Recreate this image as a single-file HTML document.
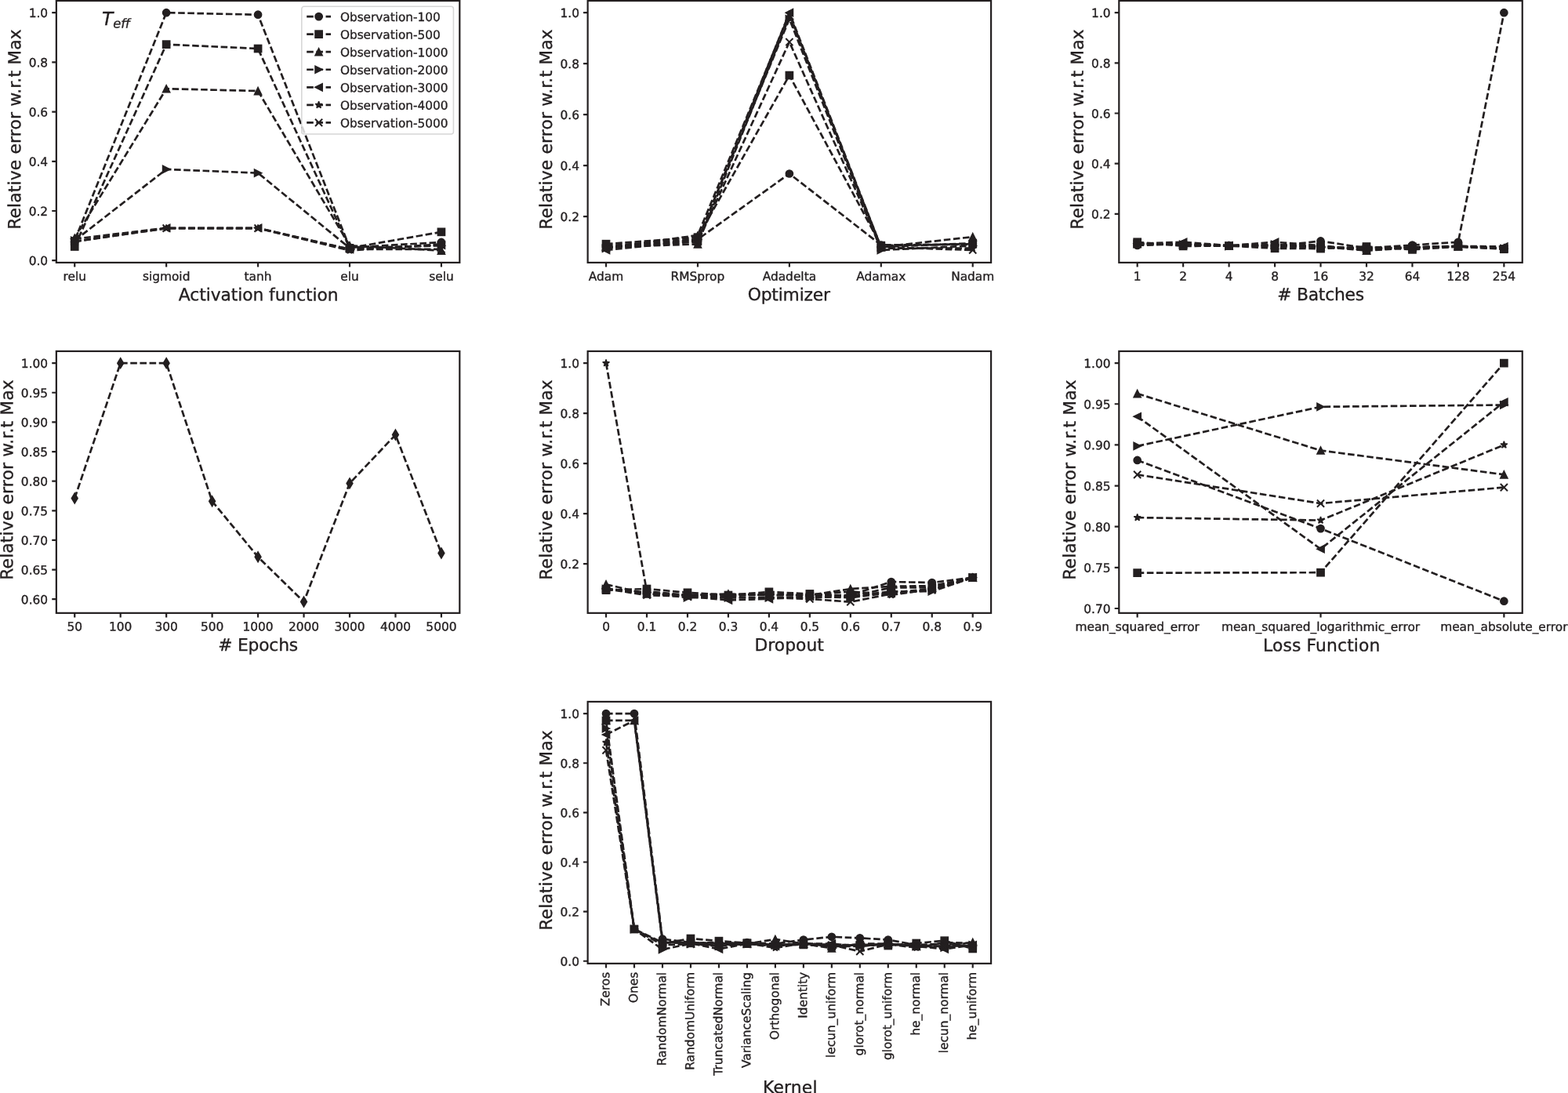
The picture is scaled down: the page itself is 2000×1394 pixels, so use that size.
<!DOCTYPE html>
<html lang="en">
<head>
<meta charset="utf-8">
<title>Relative error w.r.t Max - hyperparameter study</title>
<style>
html,body{margin:0;padding:0;background:#fff;}
body{width:2000px;height:1394px;overflow:hidden;}
svg{display:block;}
</style>
</head>
<body>
<svg width="2000" height="1394" viewBox="0 0 2000 1394">
<rect width="2000" height="1394" fill="#fff"/>
<g>
<path d="M95.23,306.9L212.15,16.18L329.07,18.71L446,315.75L562.92,308.95" fill="none" stroke="#231f20" stroke-width="2.7" stroke-dasharray="8.6 3.56" stroke-linejoin="round"/>
<g fill="#231f20" stroke="#231f20" stroke-width="1.53"><circle cx="95.23" cy="306.9" r="4.59"/><circle cx="212.15" cy="16.18" r="4.59"/><circle cx="329.07" cy="18.71" r="4.59"/><circle cx="446" cy="315.75" r="4.59"/><circle cx="562.92" cy="308.95" r="4.59"/></g>
<path d="M95.23,314.48L212.15,56.63L329.07,62L446,316.38L562.92,295.84" fill="none" stroke="#231f20" stroke-width="2.7" stroke-dasharray="8.6 3.56" stroke-linejoin="round"/>
<g fill="#231f20" stroke="#231f20" stroke-width="1.53"><rect x="90.64" y="309.89" width="9.18" height="9.18"/><rect x="207.56" y="52.04" width="9.18" height="9.18"/><rect x="324.49" y="57.41" width="9.18" height="9.18"/><rect x="441.41" y="311.79" width="9.18" height="9.18"/><rect x="558.33" y="291.25" width="9.18" height="9.18"/></g>
<path d="M95.23,303.74L212.15,113.19L329.07,116.03L446,313.22L562.92,319.54" fill="none" stroke="#231f20" stroke-width="2.7" stroke-dasharray="8.6 3.56" stroke-linejoin="round"/>
<g fill="#231f20" stroke="#231f20" stroke-width="1.53"><polygon points="95.23,299.15 90.64,308.33 99.82,308.33"/><polygon points="212.15,108.6 207.56,117.78 216.74,117.78"/><polygon points="329.07,111.44 324.49,120.62 333.66,120.62"/><polygon points="446,308.63 441.41,317.81 450.59,317.81"/><polygon points="562.92,314.95 558.33,324.13 567.51,324.13"/></g>
<path d="M95.23,306.9L212.15,215.89L329.07,220.63L446,316.38L562.92,313.22" fill="none" stroke="#231f20" stroke-width="2.7" stroke-dasharray="8.6 3.56" stroke-linejoin="round"/>
<g fill="#231f20" stroke="#231f20" stroke-width="1.53"><polygon points="99.82,306.9 90.64,302.31 90.64,311.49"/><polygon points="216.74,215.89 207.56,211.3 207.56,220.48"/><polygon points="333.66,220.63 324.49,216.04 324.49,225.22"/><polygon points="450.59,316.38 441.41,311.79 441.41,320.97"/><polygon points="567.51,313.22 558.33,308.63 558.33,317.81"/></g>
<path d="M95.23,304.69L212.15,290.78L329.07,290.78L446,317.96L562.92,312.59" fill="none" stroke="#231f20" stroke-width="2.7" stroke-dasharray="8.6 3.56" stroke-linejoin="round"/>
<g fill="#231f20" stroke="#231f20" stroke-width="1.53"><polygon points="90.64,304.69 99.82,300.1 99.82,309.28"/><polygon points="207.56,290.78 216.74,286.19 216.74,295.37"/><polygon points="324.49,290.78 333.66,286.19 333.66,295.37"/><polygon points="441.41,317.96 450.59,313.37 450.59,322.55"/><polygon points="558.33,312.59 567.51,308 567.51,317.18"/></g>
<path d="M95.23,307.85L212.15,291.1L329.07,291.1L446,319.54L562.92,311.32" fill="none" stroke="#231f20" stroke-width="2.7" stroke-dasharray="8.6 3.56" stroke-linejoin="round"/>
<g fill="#231f20" stroke="#231f20" stroke-width="1.53"><polygon stroke-linejoin="bevel" points="95.23,303.26 94.2,306.43 90.87,306.43 93.57,308.39 92.54,311.56 95.23,309.6 97.93,311.56 96.9,308.39 99.6,306.43 96.26,306.43"/><polygon stroke-linejoin="bevel" points="212.15,286.51 211.12,289.68 207.79,289.68 210.49,291.64 209.46,294.81 212.15,292.85 214.85,294.81 213.82,291.64 216.52,289.68 213.19,289.68"/><polygon stroke-linejoin="bevel" points="329.07,286.51 328.04,289.68 324.71,289.68 327.41,291.64 326.38,294.81 329.07,292.85 331.77,294.81 330.74,291.64 333.44,289.68 330.11,289.68"/><polygon stroke-linejoin="bevel" points="446,314.95 444.96,318.12 441.63,318.12 444.33,320.08 443.3,323.25 446,321.29 448.69,323.25 447.66,320.08 450.36,318.12 447.03,318.12"/><polygon stroke-linejoin="bevel" points="562.92,306.73 561.89,309.9 558.55,309.9 561.25,311.86 560.22,315.03 562.92,313.07 565.61,315.03 564.58,311.86 567.28,309.9 563.95,309.9"/></g>
<path d="M95.23,308.16L212.15,291.1L329.07,291.1L446,317.96L562.92,317.96" fill="none" stroke="#231f20" stroke-width="2.7" stroke-dasharray="8.6 3.56" stroke-linejoin="round"/>
<g fill="#231f20" stroke="#231f20" stroke-width="1.53"><path fill="none" stroke-width="2" d="M90.64,303.57L99.82,312.75M90.64,312.75L99.82,303.57"/><path fill="none" stroke-width="2" d="M207.56,286.51L216.74,295.69M207.56,295.69L216.74,286.51"/><path fill="none" stroke-width="2" d="M324.49,286.51L333.66,295.69M324.49,295.69L333.66,286.51"/><path fill="none" stroke-width="2" d="M441.41,313.37L450.59,322.55M441.41,322.55L450.59,313.37"/><path fill="none" stroke-width="2" d="M558.33,313.37L567.51,322.55M558.33,322.55L567.51,313.37"/></g>
<rect x="71.85" y="1" width="514.45" height="333.9" fill="none" stroke="#231f20" stroke-width="2.2"/>
<path d="M95.23,334.9v5.6M212.15,334.9v5.6M329.07,334.9v5.6M446,334.9v5.6M562.92,334.9v5.6M71.85,332.18h-5.6M71.85,268.98h-5.6M71.85,205.78h-5.6M71.85,142.58h-5.6M71.85,79.38h-5.6M71.85,16.18h-5.6" stroke="#231f20" stroke-width="2.2" fill="none"/>
<g font-family="'DejaVu Sans','Liberation Sans',sans-serif" font-size="15.4" fill="#231f20" stroke="#231f20" stroke-width="0.35">
<text transform="translate(61.15,338.13) skewY(0.05)" text-anchor="end">0.0</text>
<text transform="translate(61.15,274.93) skewY(0.05)" text-anchor="end">0.2</text>
<text transform="translate(61.15,211.73) skewY(0.05)" text-anchor="end">0.4</text>
<text transform="translate(61.15,148.53) skewY(0.05)" text-anchor="end">0.6</text>
<text transform="translate(61.15,85.33) skewY(0.05)" text-anchor="end">0.8</text>
<text transform="translate(61.15,22.13) skewY(0.05)" text-anchor="end">1.0</text>
<text transform="translate(95.23,357.65) skewY(0.05)" text-anchor="middle">relu</text>
<text transform="translate(212.15,357.65) skewY(0.05)" text-anchor="middle">sigmoid</text>
<text transform="translate(329.07,357.65) skewY(0.05)" text-anchor="middle">tanh</text>
<text transform="translate(446,357.65) skewY(0.05)" text-anchor="middle">elu</text>
<text transform="translate(562.92,357.65) skewY(0.05)" text-anchor="middle">selu</text>
</g>
<g font-family="'DejaVu Sans','Liberation Sans',sans-serif" font-size="21.8" fill="#231f20" stroke="#231f20" stroke-width="0.35">
<text id="xl1" transform="translate(227.87,383.25) skewY(0.05)" textLength="203.74" lengthAdjust="spacing">Activation function</text>
<text id="yl1" transform="translate(26.1,292.8) rotate(-90) skewY(0.05)" textLength="255.44" lengthAdjust="spacing" font-size="21.8">Relative error w.r.t Max</text>
</g>
</g>
<g>
<path d="M773.03,313.46L889.95,305.34L1006.88,221.51L1123.8,312.49L1240.72,311.84" fill="none" stroke="#231f20" stroke-width="2.7" stroke-dasharray="8.6 3.56" stroke-linejoin="round"/>
<g fill="#231f20" stroke="#231f20" stroke-width="1.53"><circle cx="773.03" cy="313.46" r="4.59"/><circle cx="889.95" cy="305.34" r="4.59"/><circle cx="1006.88" cy="221.51" r="4.59"/><circle cx="1123.8" cy="312.49" r="4.59"/><circle cx="1240.72" cy="311.84" r="4.59"/></g>
<path d="M773.03,311.19L889.95,302.74L1006.88,96.1L1123.8,313.14L1240.72,311.19" fill="none" stroke="#231f20" stroke-width="2.7" stroke-dasharray="8.6 3.56" stroke-linejoin="round"/>
<g fill="#231f20" stroke="#231f20" stroke-width="1.53"><rect x="768.44" y="306.6" width="9.18" height="9.18"/><rect x="885.36" y="298.15" width="9.18" height="9.18"/><rect x="1002.28" y="91.51" width="9.18" height="9.18"/><rect x="1119.21" y="308.55" width="9.18" height="9.18"/><rect x="1236.13" y="306.6" width="9.18" height="9.18"/></g>
<path d="M773.03,315.09L889.95,311.38L1006.88,21.05L1123.8,315.09L1240.72,302.09" fill="none" stroke="#231f20" stroke-width="2.7" stroke-dasharray="8.6 3.56" stroke-linejoin="round"/>
<g fill="#231f20" stroke="#231f20" stroke-width="1.53"><polygon points="773.03,310.5 768.44,319.68 777.62,319.68"/><polygon points="889.95,306.79 885.36,315.97 894.54,315.97"/><polygon points="1006.88,16.46 1002.28,25.64 1011.47,25.64"/><polygon points="1123.8,310.5 1119.21,319.68 1128.39,319.68"/><polygon points="1240.72,297.5 1236.13,306.68 1245.31,306.68"/></g>
<path d="M773.03,316.71L889.95,305.34L1006.88,24.3L1123.8,318.98L1240.72,313.46" fill="none" stroke="#231f20" stroke-width="2.7" stroke-dasharray="8.6 3.56" stroke-linejoin="round"/>
<g fill="#231f20" stroke="#231f20" stroke-width="1.53"><polygon points="777.62,316.71 768.44,312.12 768.44,321.3"/><polygon points="894.54,305.34 885.36,300.75 885.36,309.93"/><polygon points="1011.47,24.3 1002.28,19.71 1002.28,28.89"/><polygon points="1128.39,318.98 1119.21,314.39 1119.21,323.57"/><polygon points="1245.31,313.46 1236.13,308.87 1236.13,318.05"/></g>
<path d="M773.03,318.98L889.95,306.96L1006.88,16.18L1123.8,315.09L1240.72,310.21" fill="none" stroke="#231f20" stroke-width="2.7" stroke-dasharray="8.6 3.56" stroke-linejoin="round"/>
<g fill="#231f20" stroke="#231f20" stroke-width="1.53"><polygon points="768.44,318.98 777.62,314.39 777.62,323.57"/><polygon points="885.36,306.96 894.54,302.37 894.54,311.55"/><polygon points="1002.28,16.18 1011.47,11.59 1011.47,20.77"/><polygon points="1119.21,315.09 1128.39,310.5 1128.39,319.68"/><polygon points="1236.13,310.21 1245.31,305.62 1245.31,314.8"/></g>
<path d="M773.03,316.71L889.95,299.98L1006.88,17.8L1123.8,316.71L1240.72,316.71" fill="none" stroke="#231f20" stroke-width="2.7" stroke-dasharray="8.6 3.56" stroke-linejoin="round"/>
<g fill="#231f20" stroke="#231f20" stroke-width="1.53"><polygon stroke-linejoin="bevel" points="773.03,312.12 772,315.29 768.67,315.29 771.37,317.25 770.34,320.42 773.03,318.46 775.73,320.42 774.7,317.25 777.4,315.29 774.06,315.29"/><polygon stroke-linejoin="bevel" points="889.95,295.39 888.92,298.56 885.59,298.56 888.29,300.52 887.26,303.69 889.95,301.73 892.65,303.69 891.62,300.52 894.32,298.56 890.99,298.56"/><polygon stroke-linejoin="bevel" points="1006.88,13.21 1005.84,16.38 1002.51,16.38 1005.21,18.34 1004.18,21.52 1006.88,19.55 1009.57,21.52 1008.54,18.34 1011.24,16.38 1007.91,16.38"/><polygon stroke-linejoin="bevel" points="1123.8,312.12 1122.76,315.29 1119.43,315.29 1122.13,317.25 1121.1,320.42 1123.8,318.46 1126.49,320.42 1125.46,317.25 1128.16,315.29 1124.83,315.29"/><polygon stroke-linejoin="bevel" points="1240.72,312.12 1239.69,315.29 1236.35,315.29 1239.05,317.25 1238.02,320.42 1240.72,318.46 1243.41,320.42 1242.38,317.25 1245.08,315.29 1241.75,315.29"/></g>
<path d="M773.03,315.09L889.95,308.59L1006.88,53.54L1123.8,315.09L1240.72,318.98" fill="none" stroke="#231f20" stroke-width="2.7" stroke-dasharray="8.6 3.56" stroke-linejoin="round"/>
<g fill="#231f20" stroke="#231f20" stroke-width="1.53"><path fill="none" stroke-width="2" d="M768.44,310.5L777.62,319.68M768.44,319.68L777.62,310.5"/><path fill="none" stroke-width="2" d="M885.36,304L894.54,313.18M885.36,313.18L894.54,304"/><path fill="none" stroke-width="2" d="M1002.28,48.95L1011.47,58.13M1002.28,58.13L1011.47,48.95"/><path fill="none" stroke-width="2" d="M1119.21,310.5L1128.39,319.68M1119.21,319.68L1128.39,310.5"/><path fill="none" stroke-width="2" d="M1236.13,314.39L1245.31,323.57M1236.13,323.57L1245.31,314.39"/></g>
<rect x="749.65" y="1" width="514.45" height="333.9" fill="none" stroke="#231f20" stroke-width="2.2"/>
<path d="M773.03,334.9v5.6M889.95,334.9v5.6M1006.88,334.9v5.6M1123.8,334.9v5.6M1240.72,334.9v5.6M749.65,276.1h-5.6M749.65,211.12h-5.6M749.65,146.14h-5.6M749.65,81.16h-5.6M749.65,16.18h-5.6" stroke="#231f20" stroke-width="2.2" fill="none"/>
<g font-family="'DejaVu Sans','Liberation Sans',sans-serif" font-size="15.4" fill="#231f20" stroke="#231f20" stroke-width="0.35">
<text transform="translate(738.95,282.05) skewY(0.05)" text-anchor="end">0.2</text>
<text transform="translate(738.95,217.07) skewY(0.05)" text-anchor="end">0.4</text>
<text transform="translate(738.95,152.09) skewY(0.05)" text-anchor="end">0.6</text>
<text transform="translate(738.95,87.11) skewY(0.05)" text-anchor="end">0.8</text>
<text transform="translate(738.95,22.13) skewY(0.05)" text-anchor="end">1.0</text>
<text transform="translate(773.03,357.65) skewY(0.05)" text-anchor="middle">Adam</text>
<text transform="translate(889.95,357.65) skewY(0.05)" text-anchor="middle">RMSprop</text>
<text transform="translate(1006.88,357.65) skewY(0.05)" text-anchor="middle">Adadelta</text>
<text transform="translate(1123.8,357.65) skewY(0.05)" text-anchor="middle">Adamax</text>
<text transform="translate(1240.72,357.65) skewY(0.05)" text-anchor="middle">Nadam</text>
</g>
<g font-family="'DejaVu Sans','Liberation Sans',sans-serif" font-size="21.8" fill="#231f20" stroke="#231f20" stroke-width="0.35">
<text id="xl2" transform="translate(953.71,383.1) skewY(0.05)" textLength="105.27" lengthAdjust="spacing">Optimizer</text>
<text id="yl2" transform="translate(703.9,292.8) rotate(-90) skewY(0.05)" textLength="255.44" lengthAdjust="spacing" font-size="21.8">Relative error w.r.t Max</text>
</g>
</g>
<g>
<path d="M1450.68,312.92L1509.14,311.31L1567.6,313.24L1626.06,313.88L1684.52,307.46L1742.99,316.45L1801.45,312.6L1859.91,308.75L1918.37,16.18" fill="none" stroke="#231f20" stroke-width="2.7" stroke-dasharray="8.6 3.56" stroke-linejoin="round"/>
<g fill="#231f20" stroke="#231f20" stroke-width="1.53"><circle cx="1450.68" cy="312.92" r="4.59"/><circle cx="1509.14" cy="311.31" r="4.59"/><circle cx="1567.6" cy="313.24" r="4.59"/><circle cx="1626.06" cy="313.88" r="4.59"/><circle cx="1684.52" cy="307.46" r="4.59"/><circle cx="1742.99" cy="316.45" r="4.59"/><circle cx="1801.45" cy="312.6" r="4.59"/><circle cx="1859.91" cy="308.75" r="4.59"/><circle cx="1918.37" cy="16.18" r="4.59"/></g>
<path d="M1450.68,308.75L1509.14,313.88L1567.6,313.56L1626.06,316.77L1684.52,317.09L1742.99,314.52L1801.45,318.37L1859.91,314.52L1918.37,317.73" fill="none" stroke="#231f20" stroke-width="2.7" stroke-dasharray="8.6 3.56" stroke-linejoin="round"/>
<g fill="#231f20" stroke="#231f20" stroke-width="1.53"><rect x="1446.09" y="304.16" width="9.18" height="9.18"/><rect x="1504.55" y="309.29" width="9.18" height="9.18"/><rect x="1563.01" y="308.97" width="9.18" height="9.18"/><rect x="1621.47" y="312.18" width="9.18" height="9.18"/><rect x="1679.93" y="312.5" width="9.18" height="9.18"/><rect x="1738.4" y="309.93" width="9.18" height="9.18"/><rect x="1796.86" y="313.78" width="9.18" height="9.18"/><rect x="1855.32" y="309.93" width="9.18" height="9.18"/><rect x="1913.78" y="313.14" width="9.18" height="9.18"/></g>
<path d="M1450.68,310.99L1509.14,311.63L1567.6,313.24L1626.06,312.6L1684.52,314.52L1742.99,319.65L1801.45,315.8L1859.91,313.88L1918.37,316.45" fill="none" stroke="#231f20" stroke-width="2.7" stroke-dasharray="8.6 3.56" stroke-linejoin="round"/>
<g fill="#231f20" stroke="#231f20" stroke-width="1.53"><polygon points="1450.68,306.4 1446.09,315.58 1455.27,315.58"/><polygon points="1509.14,307.04 1504.55,316.22 1513.73,316.22"/><polygon points="1567.6,308.65 1563.01,317.83 1572.19,317.83"/><polygon points="1626.06,308.01 1621.47,317.19 1630.65,317.19"/><polygon points="1684.52,309.93 1679.93,319.11 1689.11,319.11"/><polygon points="1742.99,315.06 1738.4,324.24 1747.58,324.24"/><polygon points="1801.45,311.21 1796.86,320.39 1806.04,320.39"/><polygon points="1859.91,309.29 1855.32,318.47 1864.5,318.47"/><polygon points="1918.37,311.86 1913.78,321.04 1922.96,321.04"/></g>
<path d="M1450.68,310.99L1509.14,311.95L1567.6,313.88L1626.06,311.95L1684.52,315.16L1742.99,317.09L1801.45,315.8L1859.91,314.52L1918.37,317.09" fill="none" stroke="#231f20" stroke-width="2.7" stroke-dasharray="8.6 3.56" stroke-linejoin="round"/>
<g fill="#231f20" stroke="#231f20" stroke-width="1.53"><polygon points="1455.27,310.99 1446.09,306.4 1446.09,315.58"/><polygon points="1513.73,311.95 1504.55,307.36 1504.55,316.54"/><polygon points="1572.19,313.88 1563.01,309.29 1563.01,318.47"/><polygon points="1630.65,311.95 1621.47,307.36 1621.47,316.54"/><polygon points="1689.11,315.16 1679.93,310.57 1679.93,319.75"/><polygon points="1747.58,317.09 1738.4,312.5 1738.4,321.68"/><polygon points="1806.04,315.8 1796.86,311.21 1796.86,320.39"/><polygon points="1864.5,314.52 1855.32,309.93 1855.32,319.11"/><polygon points="1922.96,317.09 1913.78,312.5 1913.78,321.68"/></g>
<path d="M1450.68,310.67L1509.14,308.75L1567.6,313.24L1626.06,308.75L1684.52,313.24L1742.99,319.01L1801.45,315.16L1859.91,313.88L1918.37,314.52" fill="none" stroke="#231f20" stroke-width="2.7" stroke-dasharray="8.6 3.56" stroke-linejoin="round"/>
<g fill="#231f20" stroke="#231f20" stroke-width="1.53"><polygon points="1446.09,310.67 1455.27,306.08 1455.27,315.26"/><polygon points="1504.55,308.75 1513.73,304.16 1513.73,313.34"/><polygon points="1563.01,313.24 1572.19,308.65 1572.19,317.83"/><polygon points="1621.47,308.75 1630.65,304.16 1630.65,313.34"/><polygon points="1679.93,313.24 1689.11,308.65 1689.11,317.83"/><polygon points="1738.4,319.01 1747.58,314.42 1747.58,323.6"/><polygon points="1796.86,315.16 1806.04,310.57 1806.04,319.75"/><polygon points="1855.32,313.88 1864.5,309.29 1864.5,318.47"/><polygon points="1913.78,314.52 1922.96,309.93 1922.96,319.11"/></g>
<path d="M1450.68,310.99L1509.14,311.63L1567.6,313.56L1626.06,312.6L1684.52,314.84L1742.99,317.09L1801.45,315.8L1859.91,314.2L1918.37,317.09" fill="none" stroke="#231f20" stroke-width="2.7" stroke-dasharray="8.6 3.56" stroke-linejoin="round"/>
<g fill="#231f20" stroke="#231f20" stroke-width="1.53"><polygon stroke-linejoin="bevel" points="1450.68,306.4 1449.65,309.57 1446.32,309.57 1449.02,311.53 1447.99,314.71 1450.68,312.75 1453.38,314.71 1452.35,311.53 1455.05,309.57 1451.71,309.57"/><polygon stroke-linejoin="bevel" points="1509.14,307.04 1508.11,310.22 1504.78,310.22 1507.48,312.18 1506.45,315.35 1509.14,313.39 1511.84,315.35 1510.81,312.18 1513.51,310.22 1510.17,310.22"/><polygon stroke-linejoin="bevel" points="1567.6,308.97 1566.57,312.14 1563.24,312.14 1565.94,314.1 1564.91,317.27 1567.6,315.31 1570.3,317.27 1569.27,314.1 1571.97,312.14 1568.64,312.14"/><polygon stroke-linejoin="bevel" points="1626.06,308.01 1625.03,311.18 1621.7,311.18 1624.4,313.14 1623.37,316.31 1626.06,314.35 1628.76,316.31 1627.73,313.14 1630.43,311.18 1627.1,311.18"/><polygon stroke-linejoin="bevel" points="1684.52,310.25 1683.49,313.42 1680.16,313.42 1682.86,315.38 1681.83,318.56 1684.52,316.6 1687.22,318.56 1686.19,315.38 1688.89,313.42 1685.56,313.42"/><polygon stroke-linejoin="bevel" points="1742.99,312.5 1741.95,315.67 1738.62,315.67 1741.32,317.63 1740.29,320.8 1742.99,318.84 1745.68,320.8 1744.65,317.63 1747.35,315.67 1744.02,315.67"/><polygon stroke-linejoin="bevel" points="1801.45,311.21 1800.41,314.39 1797.08,314.39 1799.78,316.35 1798.75,319.52 1801.45,317.56 1804.14,319.52 1803.11,316.35 1805.81,314.39 1802.48,314.39"/><polygon stroke-linejoin="bevel" points="1859.91,309.61 1858.88,312.78 1855.54,312.78 1858.24,314.74 1857.21,317.91 1859.91,315.95 1862.6,317.91 1861.57,314.74 1864.27,312.78 1860.94,312.78"/><polygon stroke-linejoin="bevel" points="1918.37,312.5 1917.34,315.67 1914,315.67 1916.7,317.63 1915.67,320.8 1918.37,318.84 1921.06,320.8 1920.03,317.63 1922.73,315.67 1919.4,315.67"/></g>
<path d="M1450.68,310.99L1509.14,311.95L1567.6,313.24L1626.06,314.52L1684.52,315.16L1742.99,317.09L1801.45,315.48L1859.91,314.52L1918.37,317.09" fill="none" stroke="#231f20" stroke-width="2.7" stroke-dasharray="8.6 3.56" stroke-linejoin="round"/>
<g fill="#231f20" stroke="#231f20" stroke-width="1.53"><path fill="none" stroke-width="2" d="M1446.09,306.4L1455.27,315.58M1446.09,315.58L1455.27,306.4"/><path fill="none" stroke-width="2" d="M1504.55,307.36L1513.73,316.54M1504.55,316.54L1513.73,307.36"/><path fill="none" stroke-width="2" d="M1563.01,308.65L1572.19,317.83M1563.01,317.83L1572.19,308.65"/><path fill="none" stroke-width="2" d="M1621.47,309.93L1630.65,319.11M1621.47,319.11L1630.65,309.93"/><path fill="none" stroke-width="2" d="M1679.93,310.57L1689.11,319.75M1679.93,319.75L1689.11,310.57"/><path fill="none" stroke-width="2" d="M1738.4,312.5L1747.58,321.68M1738.4,321.68L1747.58,312.5"/><path fill="none" stroke-width="2" d="M1796.86,310.89L1806.04,320.07M1796.86,320.07L1806.04,310.89"/><path fill="none" stroke-width="2" d="M1855.32,309.93L1864.5,319.11M1855.32,319.11L1864.5,309.93"/><path fill="none" stroke-width="2" d="M1913.78,312.5L1922.96,321.68M1913.78,321.68L1922.96,312.5"/></g>
<rect x="1427.3" y="1" width="514.45" height="333.9" fill="none" stroke="#231f20" stroke-width="2.2"/>
<path d="M1450.68,334.9v5.6M1509.14,334.9v5.6M1567.6,334.9v5.6M1626.06,334.9v5.6M1684.52,334.9v5.6M1742.99,334.9v5.6M1801.45,334.9v5.6M1859.91,334.9v5.6M1918.37,334.9v5.6M1427.3,272.82h-5.6M1427.3,208.66h-5.6M1427.3,144.5h-5.6M1427.3,80.34h-5.6M1427.3,16.18h-5.6" stroke="#231f20" stroke-width="2.2" fill="none"/>
<g font-family="'DejaVu Sans','Liberation Sans',sans-serif" font-size="15.4" fill="#231f20" stroke="#231f20" stroke-width="0.35">
<text transform="translate(1416.6,278.77) skewY(0.05)" text-anchor="end">0.2</text>
<text transform="translate(1416.6,214.61) skewY(0.05)" text-anchor="end">0.4</text>
<text transform="translate(1416.6,150.45) skewY(0.05)" text-anchor="end">0.6</text>
<text transform="translate(1416.6,86.29) skewY(0.05)" text-anchor="end">0.8</text>
<text transform="translate(1416.6,22.13) skewY(0.05)" text-anchor="end">1.0</text>
<text transform="translate(1450.68,357.65) skewY(0.05)" text-anchor="middle">1</text>
<text transform="translate(1509.14,357.65) skewY(0.05)" text-anchor="middle">2</text>
<text transform="translate(1567.6,357.65) skewY(0.05)" text-anchor="middle">4</text>
<text transform="translate(1626.06,357.65) skewY(0.05)" text-anchor="middle">8</text>
<text transform="translate(1684.52,357.65) skewY(0.05)" text-anchor="middle">16</text>
<text transform="translate(1742.99,357.65) skewY(0.05)" text-anchor="middle">32</text>
<text transform="translate(1801.45,357.65) skewY(0.05)" text-anchor="middle">64</text>
<text transform="translate(1859.91,357.65) skewY(0.05)" text-anchor="middle">128</text>
<text transform="translate(1918.37,357.65) skewY(0.05)" text-anchor="middle">254</text>
</g>
<g font-family="'DejaVu Sans','Liberation Sans',sans-serif" font-size="21.8" fill="#231f20" stroke="#231f20" stroke-width="0.35">
<text id="xl3" transform="translate(1629.15,383) skewY(0.05)" textLength="110.97" lengthAdjust="spacing"># Batches</text>
<text id="yl3" transform="translate(1381.55,292.8) rotate(-90) skewY(0.05)" textLength="255.44" lengthAdjust="spacing" font-size="21.8">Relative error w.r.t Max</text>
</g>
</g>
<g>
<path d="M95.23,635.5L153.69,463.13L212.15,463.13L270.61,639.26L329.07,710.31L387.54,767.52L446,616.38L504.46,554.58L562.92,705.5" fill="none" stroke="#231f20" stroke-width="2.7" stroke-dasharray="8.6 3.56" stroke-linejoin="round"/>
<g fill="#231f20" stroke="#231f20" stroke-width="1.53"><polygon points="95.23,629 99.13,635.5 95.23,641.99 91.34,635.5"/><polygon points="153.69,456.64 157.59,463.13 153.69,469.62 149.8,463.13"/><polygon points="212.15,456.64 216.05,463.13 212.15,469.62 208.26,463.13"/><polygon points="270.61,632.77 274.51,639.26 270.61,645.75 266.72,639.26"/><polygon points="329.07,703.82 332.97,710.31 329.07,716.81 325.18,710.31"/><polygon points="387.54,761.03 391.43,767.52 387.54,774.01 383.64,767.52"/><polygon points="446,609.89 449.89,616.38 446,622.87 442.1,616.38"/><polygon points="504.46,548.09 508.35,554.58 504.46,561.07 500.56,554.58"/><polygon points="562.92,699.01 566.81,705.5 562.92,711.99 559.02,705.5"/></g>
<rect x="71.85" y="447.95" width="514.45" height="333.9" fill="none" stroke="#231f20" stroke-width="2.2"/>
<path d="M95.23,781.85v5.6M153.69,781.85v5.6M212.15,781.85v5.6M270.61,781.85v5.6M329.07,781.85v5.6M387.54,781.85v5.6M446,781.85v5.6M504.46,781.85v5.6M562.92,781.85v5.6M71.85,764.21h-5.6M71.85,726.57h-5.6M71.85,688.94h-5.6M71.85,651.3h-5.6M71.85,613.67h-5.6M71.85,576.03h-5.6M71.85,538.4h-5.6M71.85,500.76h-5.6M71.85,463.13h-5.6" stroke="#231f20" stroke-width="2.2" fill="none"/>
<g font-family="'DejaVu Sans','Liberation Sans',sans-serif" font-size="15.4" fill="#231f20" stroke="#231f20" stroke-width="0.35">
<text transform="translate(61.15,770.16) skewY(0.05)" text-anchor="end">0.60</text>
<text transform="translate(61.15,732.52) skewY(0.05)" text-anchor="end">0.65</text>
<text transform="translate(61.15,694.89) skewY(0.05)" text-anchor="end">0.70</text>
<text transform="translate(61.15,657.25) skewY(0.05)" text-anchor="end">0.75</text>
<text transform="translate(61.15,619.62) skewY(0.05)" text-anchor="end">0.80</text>
<text transform="translate(61.15,581.98) skewY(0.05)" text-anchor="end">0.85</text>
<text transform="translate(61.15,544.35) skewY(0.05)" text-anchor="end">0.90</text>
<text transform="translate(61.15,506.71) skewY(0.05)" text-anchor="end">0.95</text>
<text transform="translate(61.15,469.08) skewY(0.05)" text-anchor="end">1.00</text>
<text transform="translate(95.23,804.6) skewY(0.05)" text-anchor="middle">50</text>
<text transform="translate(153.69,804.6) skewY(0.05)" text-anchor="middle">100</text>
<text transform="translate(212.15,804.6) skewY(0.05)" text-anchor="middle">300</text>
<text transform="translate(270.61,804.6) skewY(0.05)" text-anchor="middle">500</text>
<text transform="translate(329.07,804.6) skewY(0.05)" text-anchor="middle">1000</text>
<text transform="translate(387.54,804.6) skewY(0.05)" text-anchor="middle">2000</text>
<text transform="translate(446,804.6) skewY(0.05)" text-anchor="middle">3000</text>
<text transform="translate(504.46,804.6) skewY(0.05)" text-anchor="middle">4000</text>
<text transform="translate(562.92,804.6) skewY(0.05)" text-anchor="middle">5000</text>
</g>
<g font-family="'DejaVu Sans','Liberation Sans',sans-serif" font-size="21.8" fill="#231f20" stroke="#231f20" stroke-width="0.35">
<text id="xl4" transform="translate(278.24,830) skewY(0.05)" textLength="101.88" lengthAdjust="spacing"># Epochs</text>
<text id="yl4" transform="translate(16.3,739.75) rotate(-90) skewY(0.05)" textLength="255.44" lengthAdjust="spacing" font-size="21.8">Relative error w.r.t Max</text>
</g>
</g>
<g>
<path d="M773.03,751.04L825,755.84L876.96,759.03L928.93,760.63L980.89,757.44L1032.86,759.03L1084.82,759.03L1136.79,742.08L1188.75,743.04L1240.72,736.64" fill="none" stroke="#231f20" stroke-width="2.7" stroke-dasharray="8.6 3.56" stroke-linejoin="round"/>
<g fill="#231f20" stroke="#231f20" stroke-width="1.53"><circle cx="773.03" cy="751.04" r="4.59"/><circle cx="825" cy="755.84" r="4.59"/><circle cx="876.96" cy="759.03" r="4.59"/><circle cx="928.93" cy="760.63" r="4.59"/><circle cx="980.89" cy="757.44" r="4.59"/><circle cx="1032.86" cy="759.03" r="4.59"/><circle cx="1084.82" cy="759.03" r="4.59"/><circle cx="1136.79" cy="742.08" r="4.59"/><circle cx="1188.75" cy="743.04" r="4.59"/><circle cx="1240.72" cy="736.64" r="4.59"/></g>
<path d="M773.03,752.64L825,751.04L876.96,755.84L928.93,759.03L980.89,754.88L1032.86,757.44L1084.82,760.63L1136.79,749.44L1188.75,749.44L1240.72,736.64" fill="none" stroke="#231f20" stroke-width="2.7" stroke-dasharray="8.6 3.56" stroke-linejoin="round"/>
<g fill="#231f20" stroke="#231f20" stroke-width="1.53"><rect x="768.44" y="748.05" width="9.18" height="9.18"/><rect x="820.41" y="746.45" width="9.18" height="9.18"/><rect x="872.37" y="751.25" width="9.18" height="9.18"/><rect x="924.34" y="754.44" width="9.18" height="9.18"/><rect x="976.3" y="750.29" width="9.18" height="9.18"/><rect x="1028.27" y="752.85" width="9.18" height="9.18"/><rect x="1080.23" y="756.04" width="9.18" height="9.18"/><rect x="1132.2" y="744.85" width="9.18" height="9.18"/><rect x="1184.16" y="744.85" width="9.18" height="9.18"/><rect x="1236.13" y="732.05" width="9.18" height="9.18"/></g>
<path d="M773.03,745.28L825,757.44L876.96,759.03L928.93,757.44L980.89,759.03L1032.86,759.03L1084.82,751.04L1136.79,747.84L1188.75,747.2L1240.72,736.64" fill="none" stroke="#231f20" stroke-width="2.7" stroke-dasharray="8.6 3.56" stroke-linejoin="round"/>
<g fill="#231f20" stroke="#231f20" stroke-width="1.53"><polygon points="773.03,740.69 768.44,749.87 777.62,749.87"/><polygon points="825,752.85 820.41,762.03 829.59,762.03"/><polygon points="876.96,754.44 872.37,763.62 881.55,763.62"/><polygon points="928.93,752.85 924.34,762.03 933.52,762.03"/><polygon points="980.89,754.44 976.3,763.62 985.48,763.62"/><polygon points="1032.86,754.44 1028.27,763.62 1037.45,763.62"/><polygon points="1084.82,746.45 1080.23,755.63 1089.41,755.63"/><polygon points="1136.79,743.25 1132.2,752.43 1141.38,752.43"/><polygon points="1188.75,742.61 1184.16,751.79 1193.34,751.79"/><polygon points="1240.72,732.05 1236.13,741.23 1245.31,741.23"/></g>
<path d="M773.03,751.04L825,755.84L876.96,762.23L928.93,762.23L980.89,762.23L1032.86,762.23L1084.82,760.63L1136.79,754.24L1188.75,754.24L1240.72,736.64" fill="none" stroke="#231f20" stroke-width="2.7" stroke-dasharray="8.6 3.56" stroke-linejoin="round"/>
<g fill="#231f20" stroke="#231f20" stroke-width="1.53"><polygon points="777.62,751.04 768.44,746.45 768.44,755.63"/><polygon points="829.59,755.84 820.41,751.25 820.41,760.43"/><polygon points="881.55,762.23 872.37,757.64 872.37,766.82"/><polygon points="933.52,762.23 924.34,757.64 924.34,766.82"/><polygon points="985.48,762.23 976.3,757.64 976.3,766.82"/><polygon points="1037.45,762.23 1028.27,757.64 1028.27,766.82"/><polygon points="1089.41,760.63 1080.23,756.04 1080.23,765.22"/><polygon points="1141.38,754.24 1132.2,749.65 1132.2,758.83"/><polygon points="1193.34,754.24 1184.16,749.65 1184.16,758.83"/><polygon points="1245.31,736.64 1236.13,732.05 1236.13,741.23"/></g>
<path d="M773.03,751.04L825,757.44L876.96,760.63L928.93,765.43L980.89,763.83L1032.86,760.63L1084.82,762.23L1136.79,755.84L1188.75,751.04L1240.72,736.64" fill="none" stroke="#231f20" stroke-width="2.7" stroke-dasharray="8.6 3.56" stroke-linejoin="round"/>
<g fill="#231f20" stroke="#231f20" stroke-width="1.53"><polygon points="768.44,751.04 777.62,746.45 777.62,755.63"/><polygon points="820.41,757.44 829.59,752.85 829.59,762.03"/><polygon points="872.37,760.63 881.55,756.04 881.55,765.22"/><polygon points="924.34,765.43 933.52,760.84 933.52,770.02"/><polygon points="976.3,763.83 985.48,759.24 985.48,768.42"/><polygon points="1028.27,760.63 1037.45,756.04 1037.45,765.22"/><polygon points="1080.23,762.23 1089.41,757.64 1089.41,766.82"/><polygon points="1132.2,755.84 1141.38,751.25 1141.38,760.43"/><polygon points="1184.16,751.04 1193.34,746.45 1193.34,755.63"/><polygon points="1236.13,736.64 1245.31,732.05 1245.31,741.23"/></g>
<path d="M773.03,463.13L825,754.24L876.96,759.03L928.93,759.03L980.89,759.03L1032.86,759.03L1084.82,754.24L1136.79,759.03L1188.75,751.04L1240.72,736.64" fill="none" stroke="#231f20" stroke-width="2.7" stroke-dasharray="8.6 3.56" stroke-linejoin="round"/>
<g fill="#231f20" stroke="#231f20" stroke-width="1.53"><polygon stroke-linejoin="bevel" points="773.03,458.54 772,461.71 768.67,461.71 771.37,463.67 770.34,466.84 773.03,464.88 775.73,466.84 774.7,463.67 777.4,461.71 774.06,461.71"/><polygon stroke-linejoin="bevel" points="825,749.65 823.97,752.82 820.63,752.82 823.33,754.78 822.3,757.95 825,755.99 827.7,757.95 826.67,754.78 829.36,752.82 826.03,752.82"/><polygon stroke-linejoin="bevel" points="876.96,754.44 875.93,757.62 872.6,757.62 875.3,759.58 874.27,762.75 876.96,760.79 879.66,762.75 878.63,759.58 881.33,757.62 877.99,757.62"/><polygon stroke-linejoin="bevel" points="928.93,754.44 927.9,757.62 924.56,757.62 927.26,759.58 926.23,762.75 928.93,760.79 931.63,762.75 930.6,759.58 933.29,757.62 929.96,757.62"/><polygon stroke-linejoin="bevel" points="980.89,754.44 979.86,757.62 976.53,757.62 979.23,759.58 978.19,762.75 980.89,760.79 983.59,762.75 982.56,759.58 985.26,757.62 981.92,757.62"/><polygon stroke-linejoin="bevel" points="1032.86,754.44 1031.83,757.62 1028.49,757.62 1031.19,759.58 1030.16,762.75 1032.86,760.79 1035.56,762.75 1034.52,759.58 1037.22,757.62 1033.89,757.62"/><polygon stroke-linejoin="bevel" points="1084.82,749.65 1083.79,752.82 1080.46,752.82 1083.15,754.78 1082.12,757.95 1084.82,755.99 1087.52,757.95 1086.49,754.78 1089.19,752.82 1085.85,752.82"/><polygon stroke-linejoin="bevel" points="1136.79,754.44 1135.76,757.62 1132.42,757.62 1135.12,759.58 1134.09,762.75 1136.79,760.79 1139.48,762.75 1138.45,759.58 1141.15,757.62 1137.82,757.62"/><polygon stroke-linejoin="bevel" points="1188.75,746.45 1187.72,749.62 1184.39,749.62 1187.08,751.58 1186.05,754.75 1188.75,752.79 1191.45,754.75 1190.42,751.58 1193.12,749.62 1189.78,749.62"/><polygon stroke-linejoin="bevel" points="1240.72,732.05 1239.69,735.22 1236.35,735.22 1239.05,737.18 1238.02,740.36 1240.72,738.39 1243.41,740.36 1242.38,737.18 1245.08,735.22 1241.75,735.22"/></g>
<path d="M773.03,751.04L825,759.03L876.96,760.63L928.93,762.23L980.89,762.23L1032.86,763.83L1084.82,767.67L1136.79,757.44L1188.75,752.64L1240.72,736.64" fill="none" stroke="#231f20" stroke-width="2.7" stroke-dasharray="8.6 3.56" stroke-linejoin="round"/>
<g fill="#231f20" stroke="#231f20" stroke-width="1.53"><path fill="none" stroke-width="2" d="M768.44,746.45L777.62,755.63M768.44,755.63L777.62,746.45"/><path fill="none" stroke-width="2" d="M820.41,754.44L829.59,763.62M820.41,763.62L829.59,754.44"/><path fill="none" stroke-width="2" d="M872.37,756.04L881.55,765.22M872.37,765.22L881.55,756.04"/><path fill="none" stroke-width="2" d="M924.34,757.64L933.52,766.82M924.34,766.82L933.52,757.64"/><path fill="none" stroke-width="2" d="M976.3,757.64L985.48,766.82M976.3,766.82L985.48,757.64"/><path fill="none" stroke-width="2" d="M1028.27,759.24L1037.45,768.42M1028.27,768.42L1037.45,759.24"/><path fill="none" stroke-width="2" d="M1080.23,763.08L1089.41,772.26M1080.23,772.26L1089.41,763.08"/><path fill="none" stroke-width="2" d="M1132.2,752.85L1141.38,762.03M1132.2,762.03L1141.38,752.85"/><path fill="none" stroke-width="2" d="M1184.16,748.05L1193.34,757.23M1184.16,757.23L1193.34,748.05"/><path fill="none" stroke-width="2" d="M1236.13,732.05L1245.31,741.23M1236.13,741.23L1245.31,732.05"/></g>
<rect x="749.65" y="447.95" width="514.45" height="333.9" fill="none" stroke="#231f20" stroke-width="2.2"/>
<path d="M773.03,781.85v5.6M825,781.85v5.6M876.96,781.85v5.6M928.93,781.85v5.6M980.89,781.85v5.6M1032.86,781.85v5.6M1084.82,781.85v5.6M1136.79,781.85v5.6M1188.75,781.85v5.6M1240.72,781.85v5.6M749.65,719.05h-5.6M749.65,655.07h-5.6M749.65,591.09h-5.6M749.65,527.11h-5.6M749.65,463.13h-5.6" stroke="#231f20" stroke-width="2.2" fill="none"/>
<g font-family="'DejaVu Sans','Liberation Sans',sans-serif" font-size="15.4" fill="#231f20" stroke="#231f20" stroke-width="0.35">
<text transform="translate(738.95,725) skewY(0.05)" text-anchor="end">0.2</text>
<text transform="translate(738.95,661.02) skewY(0.05)" text-anchor="end">0.4</text>
<text transform="translate(738.95,597.04) skewY(0.05)" text-anchor="end">0.6</text>
<text transform="translate(738.95,533.06) skewY(0.05)" text-anchor="end">0.8</text>
<text transform="translate(738.95,469.08) skewY(0.05)" text-anchor="end">1.0</text>
<text transform="translate(773.03,804.6) skewY(0.05)" text-anchor="middle">0</text>
<text transform="translate(825,804.6) skewY(0.05)" text-anchor="middle">0.1</text>
<text transform="translate(876.96,804.6) skewY(0.05)" text-anchor="middle">0.2</text>
<text transform="translate(928.93,804.6) skewY(0.05)" text-anchor="middle">0.3</text>
<text transform="translate(980.89,804.6) skewY(0.05)" text-anchor="middle">0.4</text>
<text transform="translate(1032.86,804.6) skewY(0.05)" text-anchor="middle">0.5</text>
<text transform="translate(1084.82,804.6) skewY(0.05)" text-anchor="middle">0.6</text>
<text transform="translate(1136.79,804.6) skewY(0.05)" text-anchor="middle">0.7</text>
<text transform="translate(1188.75,804.6) skewY(0.05)" text-anchor="middle">0.8</text>
<text transform="translate(1240.72,804.6) skewY(0.05)" text-anchor="middle">0.9</text>
</g>
<g font-family="'DejaVu Sans','Liberation Sans',sans-serif" font-size="21.8" fill="#231f20" stroke="#231f20" stroke-width="0.35">
<text id="xl5" transform="translate(962.52,830) skewY(0.05)" textLength="88.34" lengthAdjust="spacing">Dropout</text>
<text id="yl5" transform="translate(703.9,739.75) rotate(-90) skewY(0.05)" textLength="255.44" lengthAdjust="spacing" font-size="21.8">Relative error w.r.t Max</text>
</g>
</g>
<g>
<path d="M1450.68,586.92L1684.52,674.11L1918.37,766.72" fill="none" stroke="#231f20" stroke-width="2.7" stroke-dasharray="8.6 3.56" stroke-linejoin="round"/>
<g fill="#231f20" stroke="#231f20" stroke-width="1.53"><circle cx="1450.68" cy="586.92" r="4.59"/><circle cx="1684.52" cy="674.11" r="4.59"/><circle cx="1918.37" cy="766.72" r="4.59"/></g>
<path d="M1450.68,730.63L1684.52,730.21L1918.37,463.13" fill="none" stroke="#231f20" stroke-width="2.7" stroke-dasharray="8.6 3.56" stroke-linejoin="round"/>
<g fill="#231f20" stroke="#231f20" stroke-width="1.53"><rect x="1446.09" y="726.04" width="9.18" height="9.18"/><rect x="1679.93" y="725.62" width="9.18" height="9.18"/><rect x="1913.78" y="458.54" width="9.18" height="9.18"/></g>
<path d="M1450.68,502.03L1684.52,574.51L1918.37,605.27" fill="none" stroke="#231f20" stroke-width="2.7" stroke-dasharray="8.6 3.56" stroke-linejoin="round"/>
<g fill="#231f20" stroke="#231f20" stroke-width="1.53"><polygon points="1450.68,497.44 1446.09,506.62 1455.27,506.62"/><polygon points="1684.52,569.92 1679.93,579.1 1689.11,579.1"/><polygon points="1918.37,600.68 1913.78,609.86 1922.96,609.86"/></g>
<path d="M1450.68,568.88L1684.52,518.82L1918.37,516.52" fill="none" stroke="#231f20" stroke-width="2.7" stroke-dasharray="8.6 3.56" stroke-linejoin="round"/>
<g fill="#231f20" stroke="#231f20" stroke-width="1.53"><polygon points="1455.27,568.88 1446.09,564.29 1446.09,573.47"/><polygon points="1689.11,518.82 1679.93,514.23 1679.93,523.41"/><polygon points="1922.96,516.52 1913.78,511.93 1913.78,521.11"/></g>
<path d="M1450.68,531.23L1684.52,700.18L1918.37,512.77" fill="none" stroke="#231f20" stroke-width="2.7" stroke-dasharray="8.6 3.56" stroke-linejoin="round"/>
<g fill="#231f20" stroke="#231f20" stroke-width="1.53"><polygon points="1446.09,531.23 1455.27,526.64 1455.27,535.82"/><polygon points="1679.93,700.18 1689.11,695.59 1689.11,704.77"/><polygon points="1913.78,512.77 1922.96,508.18 1922.96,517.36"/></g>
<path d="M1450.68,660.13L1684.52,663.57L1918.37,567.42" fill="none" stroke="#231f20" stroke-width="2.7" stroke-dasharray="8.6 3.56" stroke-linejoin="round"/>
<g fill="#231f20" stroke="#231f20" stroke-width="1.53"><polygon stroke-linejoin="bevel" points="1450.68,655.54 1449.65,658.71 1446.32,658.71 1449.02,660.67 1447.99,663.84 1450.68,661.88 1453.38,663.84 1452.35,660.67 1455.05,658.71 1451.71,658.71"/><polygon stroke-linejoin="bevel" points="1684.52,658.98 1683.49,662.15 1680.16,662.15 1682.86,664.11 1681.83,667.29 1684.52,665.33 1687.22,667.29 1686.19,664.11 1688.89,662.15 1685.56,662.15"/><polygon stroke-linejoin="bevel" points="1918.37,562.83 1917.34,566 1914,566 1916.7,567.96 1915.67,571.13 1918.37,569.17 1921.06,571.13 1920.03,567.96 1922.73,566 1919.4,566"/></g>
<path d="M1450.68,605.38L1684.52,642.09L1918.37,621.65" fill="none" stroke="#231f20" stroke-width="2.7" stroke-dasharray="8.6 3.56" stroke-linejoin="round"/>
<g fill="#231f20" stroke="#231f20" stroke-width="1.53"><path fill="none" stroke-width="2" d="M1446.09,600.79L1455.27,609.97M1446.09,609.97L1455.27,600.79"/><path fill="none" stroke-width="2" d="M1679.93,637.5L1689.11,646.68M1679.93,646.68L1689.11,637.5"/><path fill="none" stroke-width="2" d="M1913.78,617.06L1922.96,626.24M1913.78,626.24L1922.96,617.06"/></g>
<rect x="1427.3" y="447.95" width="514.45" height="333.9" fill="none" stroke="#231f20" stroke-width="2.2"/>
<path d="M1450.68,781.85v5.6M1684.52,781.85v5.6M1918.37,781.85v5.6M1427.3,776h-5.6M1427.3,723.85h-5.6M1427.3,671.71h-5.6M1427.3,619.56h-5.6M1427.3,567.42h-5.6M1427.3,515.27h-5.6M1427.3,463.13h-5.6" stroke="#231f20" stroke-width="2.2" fill="none"/>
<g font-family="'DejaVu Sans','Liberation Sans',sans-serif" font-size="15.4" fill="#231f20" stroke="#231f20" stroke-width="0.35">
<text transform="translate(1416.6,781.95) skewY(0.05)" text-anchor="end">0.70</text>
<text transform="translate(1416.6,729.8) skewY(0.05)" text-anchor="end">0.75</text>
<text transform="translate(1416.6,677.66) skewY(0.05)" text-anchor="end">0.80</text>
<text transform="translate(1416.6,625.51) skewY(0.05)" text-anchor="end">0.85</text>
<text transform="translate(1416.6,573.37) skewY(0.05)" text-anchor="end">0.90</text>
<text transform="translate(1416.6,521.22) skewY(0.05)" text-anchor="end">0.95</text>
<text transform="translate(1416.6,469.08) skewY(0.05)" text-anchor="end">1.00</text>
<text transform="translate(1450.68,804.6) skewY(0.05)" text-anchor="middle">mean_squared_error</text>
<text transform="translate(1684.52,804.6) skewY(0.05)" text-anchor="middle">mean_squared_logarithmic_error</text>
<text transform="translate(1918.37,804.6) skewY(0.05)" text-anchor="middle">mean_absolute_error</text>
</g>
<g font-family="'DejaVu Sans','Liberation Sans',sans-serif" font-size="21.8" fill="#231f20" stroke="#231f20" stroke-width="0.35">
<text id="xl6" transform="translate(1611.12,830.5) skewY(0.05)" textLength="149.23" lengthAdjust="spacing">Loss Function</text>
<text id="yl6" transform="translate(1371.75,739.75) rotate(-90) skewY(0.05)" textLength="255.44" lengthAdjust="spacing" font-size="21.8">Relative error w.r.t Max</text>
</g>
</g>
<g>
<path d="M773.03,910.13L809.01,910.13L844.99,1197.64L880.96,1202.06L916.94,1203.64L952.91,1202.06L988.89,1203.64L1024.86,1198.59L1060.84,1194.8L1096.81,1196.38L1132.79,1198.59L1168.76,1205.21L1204.74,1203.64L1240.72,1206.79" fill="none" stroke="#231f20" stroke-width="2.7" stroke-dasharray="8.6 3.56" stroke-linejoin="round"/>
<g fill="#231f20" stroke="#231f20" stroke-width="1.53"><circle cx="773.03" cy="910.13" r="4.59"/><circle cx="809.01" cy="910.13" r="4.59"/><circle cx="844.99" cy="1197.64" r="4.59"/><circle cx="880.96" cy="1202.06" r="4.59"/><circle cx="916.94" cy="1203.64" r="4.59"/><circle cx="952.91" cy="1202.06" r="4.59"/><circle cx="988.89" cy="1203.64" r="4.59"/><circle cx="1024.86" cy="1198.59" r="4.59"/><circle cx="1060.84" cy="1194.8" r="4.59"/><circle cx="1096.81" cy="1196.38" r="4.59"/><circle cx="1132.79" cy="1198.59" r="4.59"/><circle cx="1168.76" cy="1205.21" r="4.59"/><circle cx="1204.74" cy="1203.64" r="4.59"/><circle cx="1240.72" cy="1206.79" r="4.59"/></g>
<path d="M773.03,918.96L809.01,1185.01L844.99,1203.64L880.96,1197.01L916.94,1200.16L952.91,1202.69L988.89,1205.21L1024.86,1204.9L1060.84,1206.79L1096.81,1205.21L1132.79,1206.03L1168.76,1203L1204.74,1199.69L1240.72,1209.95" fill="none" stroke="#231f20" stroke-width="2.7" stroke-dasharray="8.6 3.56" stroke-linejoin="round"/>
<g fill="#231f20" stroke="#231f20" stroke-width="1.53"><rect x="768.44" y="914.37" width="9.18" height="9.18"/><rect x="804.42" y="1180.42" width="9.18" height="9.18"/><rect x="840.4" y="1199.05" width="9.18" height="9.18"/><rect x="876.37" y="1192.42" width="9.18" height="9.18"/><rect x="912.35" y="1195.57" width="9.18" height="9.18"/><rect x="948.32" y="1198.1" width="9.18" height="9.18"/><rect x="984.3" y="1200.62" width="9.18" height="9.18"/><rect x="1020.27" y="1200.31" width="9.18" height="9.18"/><rect x="1056.25" y="1202.2" width="9.18" height="9.18"/><rect x="1092.22" y="1200.62" width="9.18" height="9.18"/><rect x="1128.2" y="1201.44" width="9.18" height="9.18"/><rect x="1164.17" y="1198.41" width="9.18" height="9.18"/><rect x="1200.15" y="1195.1" width="9.18" height="9.18"/><rect x="1236.13" y="1205.36" width="9.18" height="9.18"/></g>
<path d="M773.03,918.96L809.01,918.96L844.99,1200.48L880.96,1203L916.94,1202.06L952.91,1203.64L988.89,1197.95L1024.86,1203.64L1060.84,1209.32L1096.81,1203.64L1132.79,1203.64L1168.76,1206.79L1204.74,1206.79L1240.72,1201.87" fill="none" stroke="#231f20" stroke-width="2.7" stroke-dasharray="8.6 3.56" stroke-linejoin="round"/>
<g fill="#231f20" stroke="#231f20" stroke-width="1.53"><polygon points="773.03,914.37 768.44,923.55 777.62,923.55"/><polygon points="809.01,914.37 804.42,923.55 813.6,923.55"/><polygon points="844.99,1195.89 840.4,1205.07 849.58,1205.07"/><polygon points="880.96,1198.41 876.37,1207.59 885.55,1207.59"/><polygon points="916.94,1197.47 912.35,1206.65 921.53,1206.65"/><polygon points="952.91,1199.05 948.32,1208.23 957.5,1208.23"/><polygon points="988.89,1193.36 984.3,1202.54 993.48,1202.54"/><polygon points="1024.86,1199.05 1020.27,1208.23 1029.45,1208.23"/><polygon points="1060.84,1204.73 1056.25,1213.91 1065.43,1213.91"/><polygon points="1096.81,1199.05 1092.22,1208.23 1101.4,1208.23"/><polygon points="1132.79,1199.05 1128.2,1208.23 1137.38,1208.23"/><polygon points="1168.76,1202.2 1164.17,1211.38 1173.35,1211.38"/><polygon points="1204.74,1202.2 1200.15,1211.38 1209.33,1211.38"/><polygon points="1240.72,1197.28 1236.13,1206.46 1245.31,1206.46"/></g>
<path d="M773.03,929.06L809.01,1185.01L844.99,1210.89L880.96,1203.64L916.94,1206.79L952.91,1203.64L988.89,1205.21L1024.86,1203.64L1060.84,1206.79L1096.81,1206.79L1132.79,1203.64L1168.76,1206.79L1204.74,1208.37L1240.72,1205.21" fill="none" stroke="#231f20" stroke-width="2.7" stroke-dasharray="8.6 3.56" stroke-linejoin="round"/>
<g fill="#231f20" stroke="#231f20" stroke-width="1.53"><polygon points="777.62,929.06 768.44,924.47 768.44,933.65"/><polygon points="813.6,1185.01 804.42,1180.42 804.42,1189.6"/><polygon points="849.58,1210.89 840.4,1206.3 840.4,1215.48"/><polygon points="885.55,1203.64 876.37,1199.05 876.37,1208.23"/><polygon points="921.53,1206.79 912.35,1202.2 912.35,1211.38"/><polygon points="957.5,1203.64 948.32,1199.05 948.32,1208.23"/><polygon points="993.48,1205.21 984.3,1200.62 984.3,1209.8"/><polygon points="1029.45,1203.64 1020.27,1199.05 1020.27,1208.23"/><polygon points="1065.43,1206.79 1056.25,1202.2 1056.25,1211.38"/><polygon points="1101.4,1206.79 1092.22,1202.2 1092.22,1211.38"/><polygon points="1137.38,1203.64 1128.2,1199.05 1128.2,1208.23"/><polygon points="1173.35,1206.79 1164.17,1202.2 1164.17,1211.38"/><polygon points="1209.33,1208.37 1200.15,1203.78 1200.15,1212.96"/><polygon points="1245.31,1205.21 1236.13,1200.62 1236.13,1209.8"/></g>
<path d="M773.03,936.95L809.01,918.96L844.99,1202.06L880.96,1203L916.94,1210.42L952.91,1203.64L988.89,1206.79L1024.86,1203.64L1060.84,1203.64L1096.81,1206.79L1132.79,1203.64L1168.76,1206.79L1204.74,1210.42L1240.72,1205.21" fill="none" stroke="#231f20" stroke-width="2.7" stroke-dasharray="8.6 3.56" stroke-linejoin="round"/>
<g fill="#231f20" stroke="#231f20" stroke-width="1.53"><polygon points="768.44,936.95 777.62,932.36 777.62,941.54"/><polygon points="804.42,918.96 813.6,914.37 813.6,923.55"/><polygon points="840.4,1202.06 849.58,1197.47 849.58,1206.65"/><polygon points="876.37,1203 885.55,1198.41 885.55,1207.59"/><polygon points="912.35,1210.42 921.53,1205.83 921.53,1215.01"/><polygon points="948.32,1203.64 957.5,1199.05 957.5,1208.23"/><polygon points="984.3,1206.79 993.48,1202.2 993.48,1211.38"/><polygon points="1020.27,1203.64 1029.45,1199.05 1029.45,1208.23"/><polygon points="1056.25,1203.64 1065.43,1199.05 1065.43,1208.23"/><polygon points="1092.22,1206.79 1101.4,1202.2 1101.4,1211.38"/><polygon points="1128.2,1203.64 1137.38,1199.05 1137.38,1208.23"/><polygon points="1164.17,1206.79 1173.35,1202.2 1173.35,1211.38"/><polygon points="1200.15,1210.42 1209.33,1205.83 1209.33,1215.01"/><polygon points="1236.13,1205.21 1245.31,1200.62 1245.31,1209.8"/></g>
<path d="M773.03,947.05L809.01,1185.01L844.99,1202.06L880.96,1202.06L916.94,1203.64L952.91,1203L988.89,1209L1024.86,1203L1060.84,1205.21L1096.81,1205.21L1132.79,1204.27L1168.76,1208.68L1204.74,1202.06L1240.72,1203" fill="none" stroke="#231f20" stroke-width="2.7" stroke-dasharray="8.6 3.56" stroke-linejoin="round"/>
<g fill="#231f20" stroke="#231f20" stroke-width="1.53"><polygon stroke-linejoin="bevel" points="773.03,942.46 772,945.63 768.67,945.63 771.37,947.59 770.34,950.77 773.03,948.81 775.73,950.77 774.7,947.59 777.4,945.63 774.06,945.63"/><polygon stroke-linejoin="bevel" points="809.01,1180.42 807.98,1183.6 804.64,1183.6 807.34,1185.56 806.31,1188.73 809.01,1186.77 811.71,1188.73 810.68,1185.56 813.37,1183.6 810.04,1183.6"/><polygon stroke-linejoin="bevel" points="844.99,1197.47 843.95,1200.64 840.62,1200.64 843.32,1202.6 842.29,1205.77 844.99,1203.81 847.68,1205.77 846.65,1202.6 849.35,1200.64 846.02,1200.64"/><polygon stroke-linejoin="bevel" points="880.96,1197.47 879.93,1200.64 876.6,1200.64 879.29,1202.6 878.26,1205.77 880.96,1203.81 883.66,1205.77 882.63,1202.6 885.33,1200.64 881.99,1200.64"/><polygon stroke-linejoin="bevel" points="916.94,1199.05 915.91,1202.22 912.57,1202.22 915.27,1204.18 914.24,1207.35 916.94,1205.39 919.63,1207.35 918.6,1204.18 921.3,1202.22 917.97,1202.22"/><polygon stroke-linejoin="bevel" points="952.91,1198.41 951.88,1201.59 948.55,1201.59 951.24,1203.55 950.21,1206.72 952.91,1204.76 955.61,1206.72 954.58,1203.55 957.28,1201.59 953.94,1201.59"/><polygon stroke-linejoin="bevel" points="988.89,1204.41 987.86,1207.58 984.52,1207.58 987.22,1209.54 986.19,1212.71 988.89,1210.75 991.59,1212.71 990.55,1209.54 993.25,1207.58 989.92,1207.58"/><polygon stroke-linejoin="bevel" points="1024.86,1198.41 1023.83,1201.59 1020.5,1201.59 1023.2,1203.55 1022.16,1206.72 1024.86,1204.76 1027.56,1206.72 1026.53,1203.55 1029.23,1201.59 1025.89,1201.59"/><polygon stroke-linejoin="bevel" points="1060.84,1200.62 1059.81,1203.79 1056.47,1203.79 1059.17,1205.76 1058.14,1208.93 1060.84,1206.97 1063.54,1208.93 1062.51,1205.76 1065.2,1203.79 1061.87,1203.79"/><polygon stroke-linejoin="bevel" points="1096.81,1200.62 1095.78,1203.79 1092.45,1203.79 1095.15,1205.76 1094.12,1208.93 1096.81,1206.97 1099.51,1208.93 1098.48,1205.76 1101.18,1203.79 1097.84,1203.79"/><polygon stroke-linejoin="bevel" points="1132.79,1199.68 1131.76,1202.85 1128.42,1202.85 1131.12,1204.81 1130.09,1207.98 1132.79,1206.02 1135.49,1207.98 1134.46,1204.81 1137.15,1202.85 1133.82,1202.85"/><polygon stroke-linejoin="bevel" points="1168.76,1204.09 1167.73,1207.27 1164.4,1207.27 1167.1,1209.23 1166.07,1212.4 1168.76,1210.44 1171.46,1212.4 1170.43,1209.23 1173.13,1207.27 1169.8,1207.27"/><polygon stroke-linejoin="bevel" points="1204.74,1197.47 1203.71,1200.64 1200.38,1200.64 1203.07,1202.6 1202.04,1205.77 1204.74,1203.81 1207.44,1205.77 1206.41,1202.6 1209.11,1200.64 1205.77,1200.64"/><polygon stroke-linejoin="bevel" points="1240.72,1198.41 1239.69,1201.59 1236.35,1201.59 1239.05,1203.55 1238.02,1206.72 1240.72,1204.76 1243.41,1206.72 1242.38,1203.55 1245.08,1201.59 1241.75,1201.59"/></g>
<path d="M773.03,956.84L809.01,1185.01L844.99,1205.21L880.96,1204.27L916.94,1205.21L952.91,1204.27L988.89,1205.21L1024.86,1203.64L1060.84,1205.21L1096.81,1213.42L1132.79,1204.27L1168.76,1206.16L1204.74,1206.79L1240.72,1206.16" fill="none" stroke="#231f20" stroke-width="2.7" stroke-dasharray="8.6 3.56" stroke-linejoin="round"/>
<g fill="#231f20" stroke="#231f20" stroke-width="1.53"><path fill="none" stroke-width="2" d="M768.44,952.25L777.62,961.43M768.44,961.43L777.62,952.25"/><path fill="none" stroke-width="2" d="M804.42,1180.42L813.6,1189.6M804.42,1189.6L813.6,1180.42"/><path fill="none" stroke-width="2" d="M840.4,1200.62L849.58,1209.8M840.4,1209.8L849.58,1200.62"/><path fill="none" stroke-width="2" d="M876.37,1199.68L885.55,1208.86M876.37,1208.86L885.55,1199.68"/><path fill="none" stroke-width="2" d="M912.35,1200.62L921.53,1209.8M912.35,1209.8L921.53,1200.62"/><path fill="none" stroke-width="2" d="M948.32,1199.68L957.5,1208.86M948.32,1208.86L957.5,1199.68"/><path fill="none" stroke-width="2" d="M984.3,1200.62L993.48,1209.8M984.3,1209.8L993.48,1200.62"/><path fill="none" stroke-width="2" d="M1020.27,1199.05L1029.45,1208.23M1020.27,1208.23L1029.45,1199.05"/><path fill="none" stroke-width="2" d="M1056.25,1200.62L1065.43,1209.8M1056.25,1209.8L1065.43,1200.62"/><path fill="none" stroke-width="2" d="M1092.22,1208.83L1101.4,1218.01M1092.22,1218.01L1101.4,1208.83"/><path fill="none" stroke-width="2" d="M1128.2,1199.68L1137.38,1208.86M1128.2,1208.86L1137.38,1199.68"/><path fill="none" stroke-width="2" d="M1164.17,1201.57L1173.35,1210.75M1164.17,1210.75L1173.35,1201.57"/><path fill="none" stroke-width="2" d="M1200.15,1202.2L1209.33,1211.38M1200.15,1211.38L1209.33,1202.2"/><path fill="none" stroke-width="2" d="M1236.13,1201.57L1245.31,1210.75M1236.13,1210.75L1245.31,1201.57"/></g>
<rect x="749.65" y="894.95" width="514.45" height="333.9" fill="none" stroke="#231f20" stroke-width="2.2"/>
<path d="M773.03,1228.85v5.6M809.01,1228.85v5.6M844.99,1228.85v5.6M880.96,1228.85v5.6M916.94,1228.85v5.6M952.91,1228.85v5.6M988.89,1228.85v5.6M1024.86,1228.85v5.6M1060.84,1228.85v5.6M1096.81,1228.85v5.6M1132.79,1228.85v5.6M1168.76,1228.85v5.6M1204.74,1228.85v5.6M1240.72,1228.85v5.6M749.65,1225.73h-5.6M749.65,1162.61h-5.6M749.65,1099.49h-5.6M749.65,1036.37h-5.6M749.65,973.25h-5.6M749.65,910.13h-5.6" stroke="#231f20" stroke-width="2.2" fill="none"/>
<g font-family="'DejaVu Sans','Liberation Sans',sans-serif" font-size="15.4" fill="#231f20" stroke="#231f20" stroke-width="0.35">
<text transform="translate(738.95,1231.68) skewY(0.05)" text-anchor="end">0.0</text>
<text transform="translate(738.95,1168.56) skewY(0.05)" text-anchor="end">0.2</text>
<text transform="translate(738.95,1105.44) skewY(0.05)" text-anchor="end">0.4</text>
<text transform="translate(738.95,1042.32) skewY(0.05)" text-anchor="end">0.6</text>
<text transform="translate(738.95,979.2) skewY(0.05)" text-anchor="end">0.8</text>
<text transform="translate(738.95,916.08) skewY(0.05)" text-anchor="end">1.0</text>
<text transform="translate(777.38,1239.85) rotate(-90) skewY(0.05)" text-anchor="end">Zeros</text>
<text transform="translate(813.36,1239.85) rotate(-90) skewY(0.05)" text-anchor="end">Ones</text>
<text transform="translate(849.34,1239.85) rotate(-90) skewY(0.05)" text-anchor="end">RandomNormal</text>
<text transform="translate(885.31,1239.85) rotate(-90) skewY(0.05)" text-anchor="end">RandomUniform</text>
<text transform="translate(921.29,1239.85) rotate(-90) skewY(0.05)" text-anchor="end">TruncatedNormal</text>
<text transform="translate(957.26,1239.85) rotate(-90) skewY(0.05)" text-anchor="end">VarianceScaling</text>
<text transform="translate(993.24,1239.85) rotate(-90) skewY(0.05)" text-anchor="end">Orthogonal</text>
<text transform="translate(1029.21,1239.85) rotate(-90) skewY(0.05)" text-anchor="end">Identity</text>
<text transform="translate(1065.19,1239.85) rotate(-90) skewY(0.05)" text-anchor="end">lecun_uniform</text>
<text transform="translate(1101.16,1239.85) rotate(-90) skewY(0.05)" text-anchor="end">glorot_normal</text>
<text transform="translate(1137.14,1239.85) rotate(-90) skewY(0.05)" text-anchor="end">glorot_uniform</text>
<text transform="translate(1173.11,1239.85) rotate(-90) skewY(0.05)" text-anchor="end">he_normal</text>
<text transform="translate(1209.09,1239.85) rotate(-90) skewY(0.05)" text-anchor="end">lecun_normal</text>
<text transform="translate(1245.07,1239.85) rotate(-90) skewY(0.05)" text-anchor="end">he_uniform</text>
</g>
<g font-family="'DejaVu Sans','Liberation Sans',sans-serif" font-size="21.8" fill="#231f20" stroke="#231f20" stroke-width="0.35">
<text id="xl7" transform="translate(972.98,1394.1) skewY(0.05)" textLength="69.52" lengthAdjust="spacing">Kernel</text>
<text id="yl7" transform="translate(703.9,1186.75) rotate(-90) skewY(0.05)" textLength="255.44" lengthAdjust="spacing" font-size="21.8">Relative error w.r.t Max</text>
</g>
</g>
<rect x="384.8" y="8.3" width="193.6" height="162.7" rx="3" ry="3" fill="#fff" fill-opacity="0.8" stroke="#ccc" stroke-opacity="0.8" stroke-width="1.53"/>
<path d="M391.2,21.1H422" fill="none" stroke="#231f20" stroke-width="2.7" stroke-dasharray="8.6 3.56"/>
<g fill="#231f20" stroke="#231f20" stroke-width="1.53"><circle cx="406.6" cy="21.1" r="4.59"/></g>
<text transform="translate(433.9,27) skewY(0.05)" font-family="'DejaVu Sans','Liberation Sans',sans-serif" font-size="15.3" fill="#231f20" stroke="#231f20" stroke-width="0.35">Observation-100</text>
<path d="M391.2,43.65H422" fill="none" stroke="#231f20" stroke-width="2.7" stroke-dasharray="8.6 3.56"/>
<g fill="#231f20" stroke="#231f20" stroke-width="1.53"><rect x="402.01" y="39.06" width="9.18" height="9.18"/></g>
<text transform="translate(433.9,49.55) skewY(0.05)" font-family="'DejaVu Sans','Liberation Sans',sans-serif" font-size="15.3" fill="#231f20" stroke="#231f20" stroke-width="0.35">Observation-500</text>
<path d="M391.2,66.2H422" fill="none" stroke="#231f20" stroke-width="2.7" stroke-dasharray="8.6 3.56"/>
<g fill="#231f20" stroke="#231f20" stroke-width="1.53"><polygon points="406.6,61.61 402.01,70.79 411.19,70.79"/></g>
<text transform="translate(433.9,72.1) skewY(0.05)" font-family="'DejaVu Sans','Liberation Sans',sans-serif" font-size="15.3" fill="#231f20" stroke="#231f20" stroke-width="0.35">Observation-1000</text>
<path d="M391.2,88.75H422" fill="none" stroke="#231f20" stroke-width="2.7" stroke-dasharray="8.6 3.56"/>
<g fill="#231f20" stroke="#231f20" stroke-width="1.53"><polygon points="411.19,88.75 402.01,84.16 402.01,93.34"/></g>
<text transform="translate(433.9,94.65) skewY(0.05)" font-family="'DejaVu Sans','Liberation Sans',sans-serif" font-size="15.3" fill="#231f20" stroke="#231f20" stroke-width="0.35">Observation-2000</text>
<path d="M391.2,111.3H422" fill="none" stroke="#231f20" stroke-width="2.7" stroke-dasharray="8.6 3.56"/>
<g fill="#231f20" stroke="#231f20" stroke-width="1.53"><polygon points="402.01,111.3 411.19,106.71 411.19,115.89"/></g>
<text transform="translate(433.9,117.2) skewY(0.05)" font-family="'DejaVu Sans','Liberation Sans',sans-serif" font-size="15.3" fill="#231f20" stroke="#231f20" stroke-width="0.35">Observation-3000</text>
<path d="M391.2,133.85H422" fill="none" stroke="#231f20" stroke-width="2.7" stroke-dasharray="8.6 3.56"/>
<g fill="#231f20" stroke="#231f20" stroke-width="1.53"><polygon stroke-linejoin="bevel" points="406.6,129.26 405.57,132.43 402.23,132.43 404.93,134.39 403.9,137.56 406.6,135.6 409.3,137.56 408.27,134.39 410.97,132.43 407.63,132.43"/></g>
<text transform="translate(433.9,139.75) skewY(0.05)" font-family="'DejaVu Sans','Liberation Sans',sans-serif" font-size="15.3" fill="#231f20" stroke="#231f20" stroke-width="0.35">Observation-4000</text>
<path d="M391.2,156.4H422" fill="none" stroke="#231f20" stroke-width="2.7" stroke-dasharray="8.6 3.56"/>
<g fill="#231f20" stroke="#231f20" stroke-width="1.53"><path fill="none" stroke-width="2" d="M402.01,151.81L411.19,160.99M402.01,160.99L411.19,151.81"/></g>
<text transform="translate(433.9,162.3) skewY(0.05)" font-family="'DejaVu Sans','Liberation Sans',sans-serif" font-size="15.3" fill="#231f20" stroke="#231f20" stroke-width="0.35">Observation-5000</text>
<text transform="translate(130.1,32) skewY(0.05)" font-family="'DejaVu Sans','Liberation Sans',sans-serif" font-style="italic" font-size="23.3" fill="#231f20" stroke="#231f20" stroke-width="0.35">T<tspan font-size="16.3" dy="3.5">eff</tspan></text>
</svg>
</body>
</html>
